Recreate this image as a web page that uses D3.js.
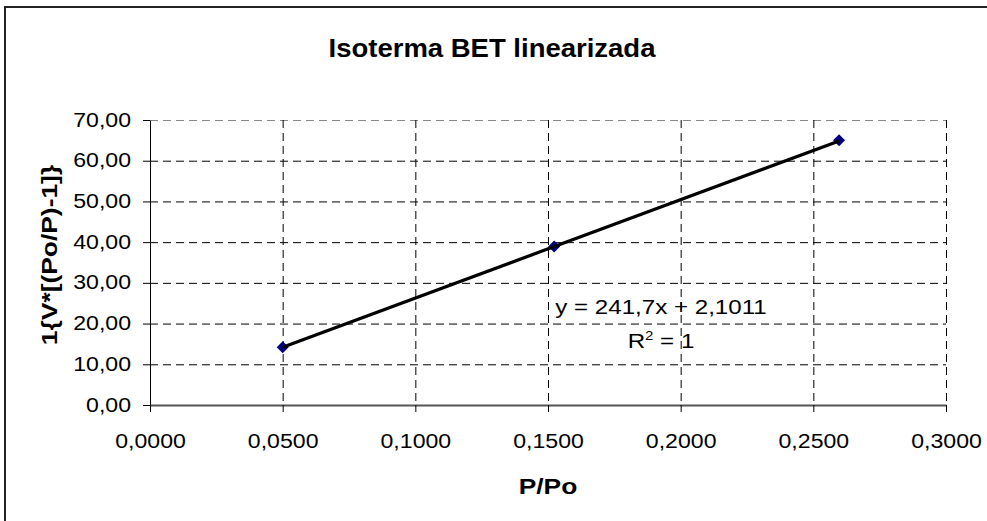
<!DOCTYPE html>
<html>
<head>
<meta charset="utf-8">
<script src="https://cdn.jsdelivr.net/npm/d3@7"></script>
<style>
    body { margin: 0; background: #fff; }
    svg { display: block; font-family: "Liberation Sans", Arial, sans-serif; }
</style>
</head>
<body>
<div id="chart"></div>
<script>
(function () {
    // data
    const pressureRatio = [0.0500, 0.1523, 0.2597];
    const betValue = [14.2, 38.9, 65.0];
    const xTicks = [0, 0.05, 0.1, 0.15, 0.2, 0.25, 0.3];
    const yTicks = [0, 10, 20, 30, 40, 50, 60, 70];
    const trend = { slope: 241.7, intercept: 2.1011 };
    const texts = {
        title: "Isoterma BET linearizada",
        xTitle: "P/Po",
        yTitle: "1{V*[(Po/P)-1]}",
        equation: "y = 241,7x + 2,1011",
    };

    const width = 987;
    const height = 521;
    const stretch = 1.1; // fonts in the picture are drawn a bit wide
    const labelSize = 21;
    const margin = { top: 120, right: 41, bottom: 116, left: 150 };
    const c = {
        width: width - (margin.left + margin.right),
        height: height - (margin.top + margin.bottom)
    };

    const commaFormat = function (digits) {
        const f = d3.format("." + digits + "f");
        return d => f(d).replace(".", ",");
    };

    c.x = d3.scaleLinear().domain([0, 0.3]).range([0, c.width]);
    c.y = d3.scaleLinear().domain([0, 70]).range([c.height, 0]);

    const base = d3.select("#chart").append("svg")
        .attr("width", width)
        .attr("height", height);

    // outer chart frame (runs off the right and bottom edge)
    base.append("rect")
        .attr("x", 5).attr("y", 7)
        .attr("width", 1000).attr("height", 600)
        .attr("fill", "none")
        .attr("stroke", "#222")
        .attr("stroke-width", 2);

    const wideText = function (sel, x, y, size, bold, rotate, sx) {
        return sel.append("text")
            .attr("transform", "translate(" + x + "," + y + ")" +
                (rotate ? " rotate(-90)" : "") + " scale(" + (sx || stretch) + ",1)")
            .attr("text-anchor", "middle")
            .style("font-size", size + "px")
            .style("font-weight", bold ? "bold" : "normal")
            .attr("fill", "#000");
    };

    wideText(base, 492, 57, 25, true).text(texts.title);

    c.svg = base.append("g")
        .attr("transform", "translate(" + margin.left + "," + margin.top + ")");

    // grid
    c.grid = c.svg.append("g").attr("class", "grid");
    c.grid.append("g").call(
        d3.axisLeft(c.y).tickValues(yTicks.filter(d => d > 0)).tickFormat("").tickSize(-c.width)
    );
    c.grid.append("g").call(
        d3.axisBottom(c.x).tickValues(xTicks.filter(d => d > 0)).tickFormat("").tickSize(c.height)
            .tickSizeOuter(0)
    );
    c.grid.selectAll(".domain").remove();
    c.grid.selectAll("line")
        .attr("stroke", "#000")
        .attr("stroke-dasharray", "8,5");
    c.grid.selectAll("g.tick").filter(d => d === 70).select("line").attr("stroke", "#888");

    // axes
    const yAxis = c.svg.append("g")
        .call(d3.axisLeft(c.y).tickValues(yTicks).tickFormat(commaFormat(2)).tickSize(7).tickSizeOuter(0));
    yAxis.selectAll("text")
        .attr("x", null).attr("dy", null).attr("y", 6)
        .attr("transform", "translate(-19,0) scale(" + stretch + ",1)")
        .style("font-size", labelSize + "px")
        .attr("fill", "#000");

    const xAxis = c.svg.append("g")
        .attr("transform", "translate(0," + c.height + ")")
        .call(d3.axisBottom(c.x).tickValues(xTicks).tickFormat(commaFormat(4)).tickSize(7).tickSizeOuter(0));
    xAxis.selectAll("text")
        .attr("dy", null).attr("y", 43)
        .attr("transform", "scale(" + stretch + ",1)")
        .style("font-size", labelSize + "px")
        .attr("fill", "#000");
    xAxis.select(".domain").attr("stroke", "#555").attr("stroke-width", 2);
    c.svg.selectAll(".tick line").filter(function () { return !this.getAttribute("stroke-dasharray"); })
        .attr("stroke", "#000");

    // axis titles
    wideText(base, margin.left + c.width / 2, 494, 22, true, false, 1.2).text(texts.xTitle);
    wideText(base, 57, 255, 22, true, true, 1.2).text(texts.yTitle);

    // points
    const points = pressureRatio.map((d, i) => ({ x: d, y: betValue[i] }));
    c.svg.append("g").selectAll("path")
        .data(points)
        .join("path")
        .attr("d", d3.symbol(d3.symbolSquare, 72))
        .attr("transform", d => "translate(" + c.x(d.x) + "," + c.y(d.y) + ") rotate(45)")
        .attr("fill", "#000080");

    // linear trendline across the data range
    const xr = d3.extent(pressureRatio);
    const trendPts = xr.map(x => ({ x: x, y: trend.slope * x + trend.intercept }));
    c.svg.append("path")
        .datum(trendPts)
        .attr("d", d3.line().x(d => c.x(d.x)).y(d => c.y(d.y)))
        .attr("fill", "none")
        .attr("stroke", "#000")
        .attr("stroke-width", 3.2);

    // equation label
    wideText(base, 661, 314, labelSize, false, false, 1.15).text(texts.equation);
    const r2 = wideText(base, 661, 348, labelSize, false, false, 1.15);
    r2.append("tspan").text("R");
    r2.append("tspan").attr("dy", -8).style("font-size", "13px").text("2");
    r2.append("tspan").attr("dy", 8).text(" = 1");
})();
</script>
</body>
</html>
